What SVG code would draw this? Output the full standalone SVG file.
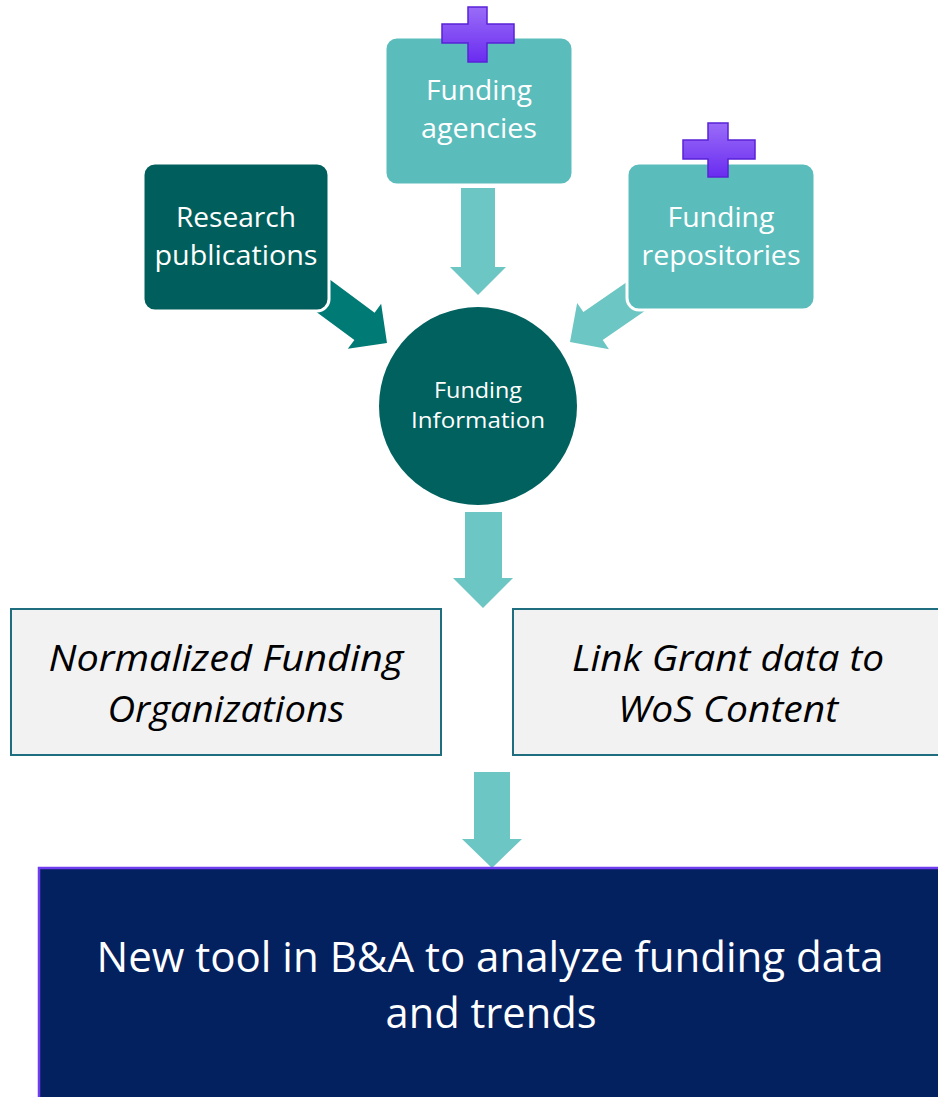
<svg xmlns="http://www.w3.org/2000/svg" width="938" height="1097" viewBox="0 0 938 1097">
  <defs>
    <linearGradient id="plusGrad" x1="0" y1="0" x2="0" y2="1">
      <stop offset="0" stop-color="#9a6cf8"/>
      <stop offset="1" stop-color="#6a2cf0"/>
    </linearGradient>
    <style>
      .lbl { font-family: "Open Sans", "Liberation Sans", sans-serif; fill: #ffffff; text-anchor: middle; }
      .ital { font-family: "Open Sans", "Liberation Sans", sans-serif; font-style: italic; fill: #000000; text-anchor: middle; }
      .light { fill: #6cc6c3; }
      .dark { fill: #007a74; }
      .plus { fill: url(#plusGrad); stroke: #5a22d6; stroke-width: 1.5; }
      .inbox { fill: #f2f2f2; stroke: #1f6e80; stroke-width: 2; }
    </style>
  </defs>
  <rect width="938" height="1097" fill="#ffffff"/>

  <g id="connectors">
    <polygon class="light" points="461,188 495,188 495,267 506,267 478,295 450,267 461,267"/>
    <polygon class="dark" transform="translate(387,343) rotate(36.5)" points="-95,-17 -28,-17 -28,-28 0,0 -28,28 -28,17 -95,17"/>
    <polygon class="light" transform="translate(570,342) rotate(145.4)" points="-95,-17 -28,-17 -28,-28 0,0 -28,28 -28,17 -95,17"/>
    <polygon class="light" points="465,512 502,512 502,578 513,578 483,608 453,578 465,578"/>
    <polygon class="light" points="474,772 510,772 510,839 522,839 492,868 462,839 474,839"/>
  </g>

  <g id="node-research">
    <rect x="143" y="163" width="186" height="148" rx="12" fill="#005f5c" stroke="#ffffff" stroke-width="3"/>
    <text class="lbl" x="236" y="227" font-size="28" textLength="120" lengthAdjust="spacingAndGlyphs">Research</text>
    <text class="lbl" x="236" y="265" font-size="28" textLength="163" lengthAdjust="spacingAndGlyphs">publications</text>
  </g>

  <g id="node-agencies">
    <rect x="385" y="37" width="188" height="148" rx="12" fill="#5bbcbc" stroke="#ffffff" stroke-width="3"/>
    <path class="plus" d="M468,7 H487 V24 H514 V43 H487 V62 H468 V43 H442 V24 H468 Z"/>
    <text class="lbl" x="479" y="100" font-size="28" textLength="106" lengthAdjust="spacingAndGlyphs">Funding</text>
    <text class="lbl" x="479" y="138" font-size="28" textLength="116" lengthAdjust="spacingAndGlyphs">agencies</text>
  </g>

  <g id="node-repositories">
    <rect x="627" y="163" width="188" height="147" rx="12" fill="#5bbcbc" stroke="#ffffff" stroke-width="3"/>
    <path class="plus" d="M708,123 H728 V140 H755 V159 H728 V177 H708 V159 H683 V140 H708 Z"/>
    <text class="lbl" x="721" y="227" font-size="28" textLength="107" lengthAdjust="spacingAndGlyphs">Funding</text>
    <text class="lbl" x="721" y="265" font-size="28" textLength="159" lengthAdjust="spacingAndGlyphs">repositories</text>
  </g>

  <g id="node-info">
    <circle cx="478" cy="406" r="99" fill="#00615e"/>
    <text class="lbl" x="478" y="398" font-size="21" textLength="88" lengthAdjust="spacingAndGlyphs">Funding</text>
    <text class="lbl" x="478" y="428" font-size="21" textLength="134" lengthAdjust="spacingAndGlyphs">Information</text>
  </g>

  <g id="node-normalized">
    <rect class="inbox" x="11" y="609" width="430" height="146"/>
    <text class="ital" x="226" y="671" font-size="37" textLength="355" lengthAdjust="spacingAndGlyphs">Normalized  Funding</text>
    <text class="ital" x="226" y="722" font-size="37" textLength="237" lengthAdjust="spacingAndGlyphs">Organizations</text>
  </g>

  <g id="node-link">
    <rect class="inbox" x="513" y="609" width="440" height="146"/>
    <text class="ital" x="728" y="671" font-size="37" textLength="312" lengthAdjust="spacingAndGlyphs">Link Grant data to</text>
    <text class="ital" x="728" y="722" font-size="37" textLength="220" lengthAdjust="spacingAndGlyphs">WoS Content</text>
  </g>

  <g id="node-tool">
    <rect x="39" y="868" width="910" height="240" fill="#03205f" stroke="#6f3cf0" stroke-width="2.5"/>
    <text class="lbl" x="490" y="972" font-size="42" textLength="787" lengthAdjust="spacingAndGlyphs">New tool in B&amp;A to analyze funding data</text>
    <text class="lbl" x="491" y="1028" font-size="42" textLength="211" lengthAdjust="spacingAndGlyphs">and trends</text>
  </g>
</svg>
